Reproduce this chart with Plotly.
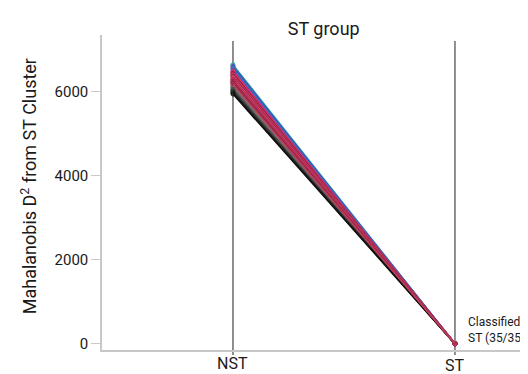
import plotly.graph_objects as go

categories = ["NST", "ST"]
nst_values = [6650, 6615, 6590, 6565, 6540, 6515, 6495, 6475, 6455, 6435,
              6415, 6400, 6385, 6365, 6345, 6325, 6305, 6290, 6275, 6255,
              6235, 6220, 6205, 6185, 6165, 6145, 6125, 6105, 6085, 6065,
              6045, 6025, 6000, 5975, 5950]
st_values = [9, 4, 12, 6, 3, 10, 7, 2, 11, 5,
             8, 3, 6, 9, 4, 12, 7, 2, 5, 10,
             6, 3, 8, 11, 4, 7, 9, 2, 5, 6,
             3, 8, 4, 6, 2]
palette = ["#1fa3a3", "#3355cc", "#5b3fb0", "#2a8f8f", "#4466dd", "#7a3fa8",
           "#d6336c", "#e8414a", "#b0205a", "#8f1c3c", "#c2185b", "#e05a8a",
           "#a83232", "#7a1f3d", "#d94f6a", "#c43c7a", "#9e2a4f", "#e0306a",
           "#b83a5a", "#8b2252", "#d63a4a", "#a0204a", "#6e1f3a", "#c0405a",
           "#8a8a8a", "#666666", "#999999", "#555555", "#777777", "#444444",
           "#5a5a5a", "#333333", "#2a2a2a", "#1e1e1e", "#111111"]
annotation_text = "Classified<br>ST (35/35)"
title_text = "ST group"
y_title = "Mahalanobis D<sup>2</sup> from ST Cluster"

font_family = "Roboto, 'DejaVu Sans', sans-serif"
text_color = "#1a1a1a"

xpos = list(range(len(categories)))
fig = go.Figure()
order = list(range(24, 35)) + list(range(0, 24))
for i in order:
    fig.add_trace(go.Scatter(
        x=xpos, y=[nst_values[i], st_values[i]], mode="lines+markers",
        line=dict(color=palette[i], width=1.5),
        marker=dict(symbol="circle-open", size=4, color=palette[i]),
        showlegend=False, hoverinfo="skip"))

label_y = [-0.042, -0.050]
for xv in xpos:
    fig.add_shape(type="line", x0=xv, x1=xv, xref="x", y0=-0.016, y1=0.981, yref="paper",
                  line=dict(color="#444444", width=1.2), layer="below")
    fig.add_annotation(x=xv, xref="x", y=label_y[xv], yref="paper", text=categories[xv],
                       showarrow=False, yanchor="middle",
                       font=dict(size=16, color=text_color, family=font_family))

fig.add_annotation(x=1.05, xref="x", y=333, yref="y", text=annotation_text,
                   showarrow=False, xanchor="left", yanchor="middle", align="left",
                   font=dict(size=12, color=text_color, family=font_family))

fig.add_annotation(x=-0.168, xref="paper", y=0.52, yref="paper", text=y_title,
                   showarrow=False, textangle=-90, xanchor="center", yanchor="middle",
                   font=dict(size=18, color=text_color, family=font_family))

fig.update_layout(
    width=528, height=374,
    margin=dict(l=94, r=0, t=27, b=32),
    paper_bgcolor="white", plot_bgcolor="white",
    font=dict(family=font_family, color=text_color),
    title=dict(text=title_text, x=0.598, xanchor="center", y=0.944, yanchor="middle",
               font=dict(size=18, color=text_color)),
    xaxis=dict(range=[-0.59, 1.365], showgrid=False, zeroline=False,
               showticklabels=False, ticks="", showline=True,
               linecolor="#c8c8c8", linewidth=1.5),
    yaxis=dict(range=[-143, 7357], tickvals=[0, 2000, 4000, 6000],
               showgrid=False, zeroline=False, showline=True,
               linecolor="#c8c8c8", linewidth=1.5,
               ticks="outside", ticklen=9, tickcolor="#c8c8c8",
               tickfont=dict(size=15, color=text_color)),
)

fig.write_html("out.html")
